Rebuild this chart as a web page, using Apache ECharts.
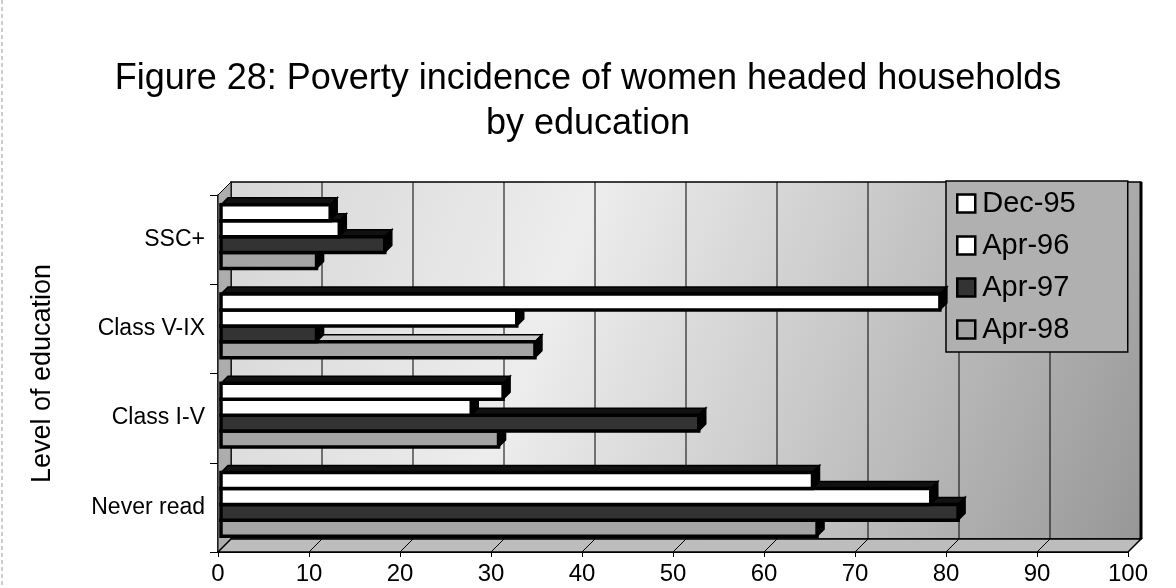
<!DOCTYPE html>
<html>
<head>
<meta charset="utf-8">
<script src="https://cdn.jsdelivr.net/npm/echarts@6/dist/echarts.min.js"></script>
<style>
  html, body { margin: 0; padding: 0; background: #ffffff; }
  #chart { width: 1176px; height: 588px; }
</style>
</head>
<body>
<div id="chart"></div>
<script>
// Poverty incidence (%) of women headed households, by level of education
const categories = ['Never read', 'Class I-V', 'Class V-IX', 'SSC+'];
const seriesNames = ['Dec-95', 'Apr-96', 'Apr-97', 'Apr-98'];
const dec95 = [65, 31, 79, 12];
const apr96 = [78, 27.5, 32.5, 13];
const apr97 = [81, 52.5, 10.5, 18];
const apr98 = [65.5, 30.5, 34.5, 10.5];
const xTicks = [0, 10, 20, 30, 40, 50, 60, 70, 80, 90, 100];

const FONT = 'Liberation Sans, Arial, Helvetica, sans-serif';
const WALL = 13;      // depth of the 3-D box (px)
const BAR_D = 7;      // depth of each bar (px)
const INSET = 3;      // bars sit slightly behind the front plane

const looks = [
  { front: '#ffffff', top: '#111111' },
  { front: '#ffffff', top: '#111111' },
  { front: '#333333', top: '#111111' },
  { front: '#a4a4a4', top: '#cccccc' }
];
const values = [dec95, apr96, apr97, apr98];

function barRenderer(idx) {
  return function (params, api) {
    const v = api.value(0), c = api.value(1);
    const p0 = api.coord([0, c]);
    const p1 = api.coord([v, c]);
    const band = api.size([0, 1])[1];
    const h = band * 0.178;
    const yTop = p0[1] - 3 - 2 * h + idx * h;
    const x0 = p0[0] + INSET, x1 = p1[0] + INSET;
    const d = BAR_D;
    const lk = looks[idx];
    return {
      type: 'group',
      children: [
        { type: 'polygon', shape: { points: [[x0, yTop], [x0 + d, yTop - d], [x1 + d, yTop - d], [x1, yTop]] },
          style: { fill: lk.top, stroke: '#000', lineWidth: 1.5 } },
        { type: 'polygon', shape: { points: [[x1, yTop], [x1 + d, yTop - d], [x1 + d, yTop + h - d], [x1, yTop + h]] },
          style: { fill: '#000', stroke: '#000', lineWidth: 1.5 } },
        { type: 'rect', shape: { x: x0, y: yTop, width: x1 - x0, height: h },
          style: { fill: lk.front, stroke: '#000', lineWidth: 3.5 } }
      ]
    };
  };
}

// walls, floor and gridlines of the 3-D box
function boxRenderer(params, api) {
  const a = api.coord([0, 0]);
  const band = api.size([0, 1])[1];
  const xL = api.coord([xTicks[0], 0])[0];
  const xR = api.coord([xTicks[xTicks.length - 1], 0])[0];
  const yB = a[1] + band / 2;
  const yT = yB - band * categories.length;
  const w = WALL;
  const kids = [];
  kids.push({ type: 'rect', shape: { x: xL + w, y: yT - w, width: xR - xL, height: yB - yT },
    style: { fill: new echarts.graphic.LinearGradient(0, 0, 1, 1, [
      { offset: 0, color: '#d6d6d6' }, { offset: 0.35, color: '#ededed' },
      { offset: 0.6, color: '#cdcdcd' }, { offset: 1, color: '#979797' }]),
      stroke: '#000', lineWidth: 1.5 } });
  kids.push({ type: 'polygon', shape: { points: [[xL, yT], [xL + w, yT - w], [xL + w, yB - w], [xL, yB]] },
    style: { fill: '#adadad', stroke: '#000', lineWidth: 1 } });
  kids.push({ type: 'polygon', shape: { points: [[xL, yB], [xR, yB], [xR + w, yB - w], [xL + w, yB - w]] },
    style: { fill: '#bdbdbd', stroke: '#000', lineWidth: 1.5 } });
  xTicks.forEach(function (t, i) {
    const x = api.coord([t, 0])[0];
    if (i > 0 && i < xTicks.length - 1) {
      kids.push({ type: 'line', shape: { x1: x + w, y1: yT - w, x2: x + w, y2: yB - w },
        style: { stroke: '#000', lineWidth: 1 } });
    }
    kids.push({ type: 'line', shape: { x1: x, y1: yB, x2: x + w, y2: yB - w },
      style: { stroke: '#000', lineWidth: 1 } });
  });
  kids.push({ type: 'line', shape: { x1: xR + w, y1: yT - w, x2: xR + w, y2: yB - w },
    style: { stroke: '#000', lineWidth: 3 } });
  return { type: 'group', children: kids };
}

const chart = echarts.init(document.getElementById('chart'), null, { renderer: 'canvas' });

const series = [{
  type: 'custom', name: 'box', silent: true, z: 1,
  renderItem: boxRenderer, data: [[0, 0]], encode: { x: 0, y: 1 }
}];
seriesNames.forEach(function (name, i) {
  series.push({
    type: 'custom', name: name, z: 10 - i,
    renderItem: barRenderer(i),
    itemStyle: { color: looks[i].front, borderColor: '#000', borderWidth: 2 },
    encode: { x: 0, y: 1 },
    data: values[i].map(function (v, c) { return [v, c]; })
  });
});

chart.setOption({
  animation: false,
  backgroundColor: '#ffffff',
  title: {
    text: 'Figure 28: Poverty incidence of women headed households\nby education',
    left: 'center', top: 52,
    textStyle: { fontFamily: FONT, fontSize: 36, fontWeight: 'normal', color: '#000', lineHeight: 45 }
  },
  legend: {
    orient: 'vertical', left: 946, top: 181,
    padding: [8, 52, 8, 10], itemGap: 13, itemWidth: 18, itemHeight: 18,
    backgroundColor: '#b0b0b0', borderColor: '#000', borderWidth: 1.5,
    textStyle: { fontFamily: FONT, fontSize: 29, color: '#000', padding: [0, 0, 0, 2] },
    icon: 'rect',
    data: seriesNames.map(function (n, i) {
      return { name: n, itemStyle: { color: looks[i].front, borderColor: '#000', borderWidth: 2.5 } };
    })
  },
  grid: { left: 218, right: 48, top: 195, bottom: 36, containLabel: false },
  xAxis: {
    type: 'value', min: 0, max: 100, interval: 10,
    axisLine: { show: true, lineStyle: { color: '#000', width: 2 } },
    axisTick: { show: true, length: 5, lineStyle: { color: '#000' } },
    splitLine: { show: false },
    axisLabel: { fontFamily: FONT, fontSize: 24, color: '#000', margin: 10,
      formatter: function (v) { return xTicks.indexOf(v) >= 0 ? String(v) : ''; } }
  },
  yAxis: {
    type: 'category', data: categories,
    name: 'Level of education', nameLocation: 'middle', nameRotate: 90, nameGap: 162,
    nameTextStyle: { fontFamily: FONT, fontSize: 27, color: '#000' },
    axisLine: { show: true, lineStyle: { color: '#000', width: 1.5 } },
    axisTick: { show: true, length: 8, lineStyle: { color: '#000' } },
    axisLabel: { fontFamily: FONT, fontSize: 23, color: '#000', margin: 13 }
  },
  graphic: [
    { type: 'line', shape: { x1: 2, y1: 0, x2: 2, y2: 588 },
      style: { stroke: '#9a9a9a', lineWidth: 1, lineDash: [4, 3] } }
  ],
  series: series
});
</script>
</body>
</html>
